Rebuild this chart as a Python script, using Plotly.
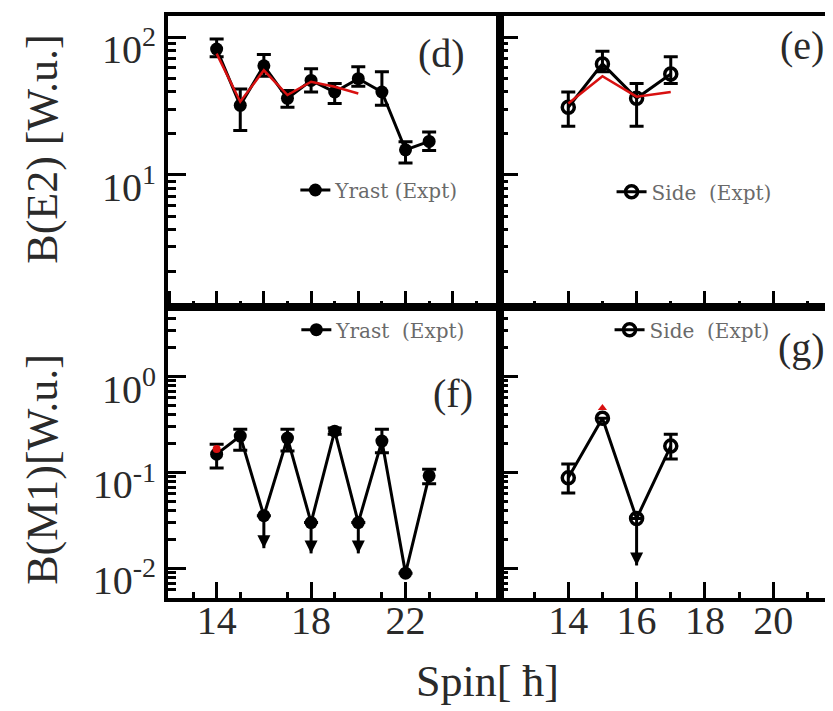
import plotly.graph_objects as go

FONT = "Liberation Serif"

# ---------------- data ----------------
# (d) Yrast B(E2)
d_spin = [14, 15, 16, 17, 18, 19, 20, 21, 22, 23]
d_be2 = [82, 32, 62, 36, 48.5, 40, 50, 40, 15.2, 17.5]
d_be2_hi = [97, 42, 75, 41, 59, 46, 61, 56, 17.4, 20.5]
d_be2_lo = [72, 21, 52, 31, 40, 33, 44, 32, 12.2, 15.0]
d_theo_spin = [14, 15, 16, 17, 18, 19, 20]
d_theo = [76, 34, 57.5, 38, 47.5, 43.7, 39]

# (e) Side B(E2)
e_spin = [14, 15, 16, 17]
e_be2 = [31, 64, 36, 54]
e_be2_hi = [40, 79, 46, 72]
e_be2_lo = [22.5, 56, 22.5, 46]
e_theo_spin = [14, 15, 16, 17]
e_theo = [33, 52, 37, 40]

# (f) Yrast B(M1)
f_spin = [14, 15, 16, 17, 18, 19, 20, 21, 22, 23]
f_bm1 = [0.155, 0.239, 0.0354, 0.228, 0.030, 0.269, 0.030, 0.212, 0.0089, 0.092]
f_bm1_hi = [0.197, 0.282, None, 0.282, None, 0.29, None, 0.282, None, 0.108]
f_bm1_lo = [0.111, 0.17, None, 0.167, None, 0.25, None, 0.16, None, 0.076]
f_lim_spin = [16, 18, 20]
f_lim_val = [0.0354, 0.030, 0.030]
f_lim_tip = [0.0162, 0.0143, 0.0143]
f_theo_spin = [14]
f_theo = [0.175]

# (g) Side B(M1)
g_spin = [14, 15, 16, 17]
g_bm1 = [0.0877, 0.367, 0.033, 0.188]
g_bm1_hi = [0.122, None, None, 0.25]
g_bm1_lo = [0.061, None, None, 0.138]
g_lim_spin = [16]
g_lim_val = [0.033]
g_lim_tip = [0.0107]
g_theo_spin = [15]
g_theo = [0.47]

# ticks
left_major = [12, 14, 16, 18, 20, 22, 24, 26]
left_labels = [14, 18, 22]
left_unlabeled = [12, 16, 20, 24, 26]
right_major = [12, 14, 16, 18, 20]
right_labels = [14, 16, 18, 20]
x_minor = [11, 13, 15, 17, 19, 21, 23, 25]
e2_ticks = [10, 100]
e2_text = ["10<sup>1</sup>", "10<sup>2</sup>"]
m1_ticks = [0.01, 0.1, 1]
m1_text = ["10<sup>-2</sup>", "10<sup>-1</sup>", "10<sup>0</sup>"]


def err(vals, hi, lo):
    plus = [(h - v) if h is not None else 0 for v, h in zip(vals, hi)]
    minus = [(v - l) if l is not None else 0 for v, l in zip(vals, lo)]
    return dict(type="data", symmetric=False, array=plus, arrayminus=minus,
                color="black", thickness=3, width=7)


def minor_log(kmin, kmax):
    return [m * 10.0 ** k for k in range(kmin, kmax + 1) for m in range(2, 10)]


BLACK = "black"
RED = "#d81010"

fig = go.Figure()

# (d)
fig.add_trace(go.Scatter(x=d_spin, y=d_be2, mode="lines+markers", name="Yrast (Expt)",
                         line=dict(color=BLACK, width=3), marker=dict(color=BLACK, size=13),
                         error_y=err(d_be2, d_be2_hi, d_be2_lo),
                         xaxis="x", yaxis="y", legend="legend"))
fig.add_trace(go.Scatter(x=d_theo_spin, y=d_theo, mode="lines", showlegend=False,
                         line=dict(color=RED, width=2.5), xaxis="x", yaxis="y"))

# (e)
fig.add_trace(go.Scatter(x=e_spin, y=e_be2, mode="lines+markers", name="Side  (Expt)",
                         line=dict(color=BLACK, width=3),
                         marker=dict(color=BLACK, size=12, symbol="circle-open", line=dict(width=3.5)),
                         error_y=err(e_be2, e_be2_hi, e_be2_lo),
                         xaxis="x2", yaxis="y2", legend="legend2"))
fig.add_trace(go.Scatter(x=e_theo_spin, y=e_theo, mode="lines", showlegend=False,
                         line=dict(color=RED, width=2.5), xaxis="x2", yaxis="y2"))

# (f)
fig.add_trace(go.Scatter(x=f_spin, y=f_bm1, mode="lines+markers", name="Yrast  (Expt)",
                         line=dict(color=BLACK, width=3), marker=dict(color=BLACK, size=13),
                         error_y=err(f_bm1, f_bm1_hi, f_bm1_lo),
                         xaxis="x3", yaxis="y3", legend="legend3"))
fig.add_trace(go.Scatter(x=f_lim_spin, y=f_lim_tip, mode="markers", showlegend=False,
                         marker=dict(color=BLACK, size=13, symbol="arrow-down"),
                         error_y=dict(type="data", symmetric=False,
                                      array=[v - t for v, t in zip(f_lim_val, f_lim_tip)],
                                      arrayminus=[0] * len(f_lim_tip),
                                      color=BLACK, thickness=3, width=0),
                         xaxis="x3", yaxis="y3"))
fig.add_trace(go.Scatter(x=f_theo_spin, y=f_theo, mode="markers", showlegend=False,
                         marker=dict(color=RED, size=8), xaxis="x3", yaxis="y3"))

# (g)
fig.add_trace(go.Scatter(x=g_spin, y=g_bm1, mode="lines+markers", name="Side  (Expt)",
                         line=dict(color=BLACK, width=3),
                         marker=dict(color=BLACK, size=12, symbol="circle-open", line=dict(width=3.5)),
                         error_y=err(g_bm1, g_bm1_hi, g_bm1_lo),
                         xaxis="x4", yaxis="y4", legend="legend4"))
fig.add_trace(go.Scatter(x=g_lim_spin, y=g_lim_tip, mode="markers", showlegend=False,
                         marker=dict(color=BLACK, size=13, symbol="arrow-down"),
                         error_y=dict(type="data", symmetric=False,
                                      array=[v - t for v, t in zip(g_lim_val, g_lim_tip)],
                                      arrayminus=[0] * len(g_lim_tip),
                                      color=BLACK, thickness=3, width=0),
                         xaxis="x4", yaxis="y4"))
fig.add_trace(go.Scatter(x=g_theo_spin, y=g_theo, mode="markers", showlegend=False,
                         marker=dict(color=RED, size=8, symbol="triangle-up"), xaxis="x4", yaxis="y4"))

XS = 0.4992
LEFT_RANGE = [11.94, 26.0]
RIGHT_RANGE = [12.0, 21.75]
tickfont = dict(family=FONT, size=40, color="#2a2a2a")


def xax(domain, rng, vals, anchor, labels, mirror=True):
    d = dict(domain=domain, range=rng, anchor=anchor, showgrid=False, zeroline=False,
             showline=True, linecolor=BLACK, linewidth=4, mirror=mirror,
             tickmode="array", tickvals=vals, showticklabels=labels,
             ticks="inside", ticklen=16, tickwidth=3, tickcolor=BLACK,
             minor=dict(tickmode="array", tickvals=x_minor,
                        ticks="inside", ticklen=6, tickwidth=3, tickcolor=BLACK, showgrid=False))
    if labels:
        d.update(tickfont=tickfont, ticklabelstandoff=-16)
    return d


def yax(domain, rng, vals, text, anchor, labels, mirror, minor_vals):
    d = dict(domain=domain, type="log", range=rng, anchor=anchor, showgrid=False,
             zeroline=False, showline=True, linecolor=BLACK, linewidth=4, mirror=mirror,
             tickmode="array", tickvals=vals, showticklabels=labels,
             ticks="inside", ticklen=18, tickwidth=3, tickcolor=BLACK,
             minor=dict(tickmode="array", tickvals=minor_vals, ticks="inside", ticklen=8,
                        tickwidth=2.5, tickcolor=BLACK, showgrid=False))
    if labels:
        d.update(ticktext=text, tickfont=tickfont, ticklabelshift=12)
    return d


E2_RANGE = [0.04, 2.154]
M1_RANGE = [-2.31, 0.725]

legfont = dict(family="DejaVu Serif", size=20, color="#6a6a6a")


def leg(x, y):
    return dict(x=x, y=y, xanchor="left", yanchor="middle", bgcolor="rgba(0,0,0,0)",
                font=legfont, borderwidth=0, itemwidth=30, tracegroupgap=0)


# extra tick-only axis for the unlabeled major ticks of panel (f)
xaxis5 = dict(overlaying="x3", anchor="y3", domain=[0, XS], range=LEFT_RANGE, side="bottom",
              showgrid=False, zeroline=False, showline=False, showticklabels=False,
              tickmode="array", tickvals=left_unlabeled, ticks="inside", ticklen=16,
              tickwidth=3, tickcolor=BLACK)

fig.update_layout(
    width=833, height=711,
    # the page adds an 8 px body margin; offset so the plot lands where the reference has it
    margin=dict(l=160, r=8, t=4, b=121),
    paper_bgcolor="white", plot_bgcolor="white",
    font=dict(family=FONT, color="#2a2a2a"),
    xaxis=xax([0, XS], LEFT_RANGE, left_major, "y", False),
    yaxis=yax([0.5, 1], E2_RANGE, e2_ticks, e2_text, "x", True, True, minor_log(0, 2)),
    xaxis2=xax([XS, 1], RIGHT_RANGE, right_major, "y2", False),
    yaxis2=yax([0.5, 1], E2_RANGE, e2_ticks, e2_text, "x2", False, False, minor_log(0, 2)),
    xaxis3=xax([0, XS], LEFT_RANGE, left_labels, "y3", True),
    yaxis3=yax([0, 0.5], M1_RANGE, m1_ticks, m1_text, "x3", True, True, minor_log(-3, 0)),
    xaxis4=xax([XS, 1], RIGHT_RANGE, right_labels, "y4", True),
    yaxis4=yax([0, 0.5], M1_RANGE, m1_ticks, m1_text, "x4", False, False, minor_log(-3, 0)),
    xaxis5=xaxis5,
    legend=leg(0.1915, 0.701),
    legend2=leg(0.667, 0.698),
    legend3=leg(0.193, 0.461),
    legend4=leg(0.664, 0.461),
)

labfont = dict(family=FONT, size=40, color="#2a2a2a")
for txt, x, y in [("(d)", 0.412, 0.935), ("(e)", 0.953, 0.950),
                  ("(f)", 0.429, 0.352), ("(g)", 0.953, 0.430)]:
    fig.add_annotation(text=txt, x=x, y=y, xref="paper", yref="paper",
                       showarrow=False, font=labfont, xanchor="center", yanchor="middle")

titlefont = dict(family=FONT, size=44, color="#2a2a2a")
fig.add_annotation(text="B(E2) [W.u.]", x=-0.188, y=0.772, xref="paper", yref="paper",
                   textangle=-90, showarrow=False, font=titlefont,
                   xanchor="center", yanchor="middle")
fig.add_annotation(text="B(M1)[W.u.]", x=-0.188, y=0.222, xref="paper", yref="paper",
                   textangle=-90, showarrow=False, font=titlefont,
                   xanchor="center", yanchor="middle")
fig.add_annotation(text="Spin[ ħ]", x=0.481, y=-0.143, xref="paper", yref="paper",
                   showarrow=False, font=titlefont, xanchor="center", yanchor="middle")

fig.write_html("out.html")
